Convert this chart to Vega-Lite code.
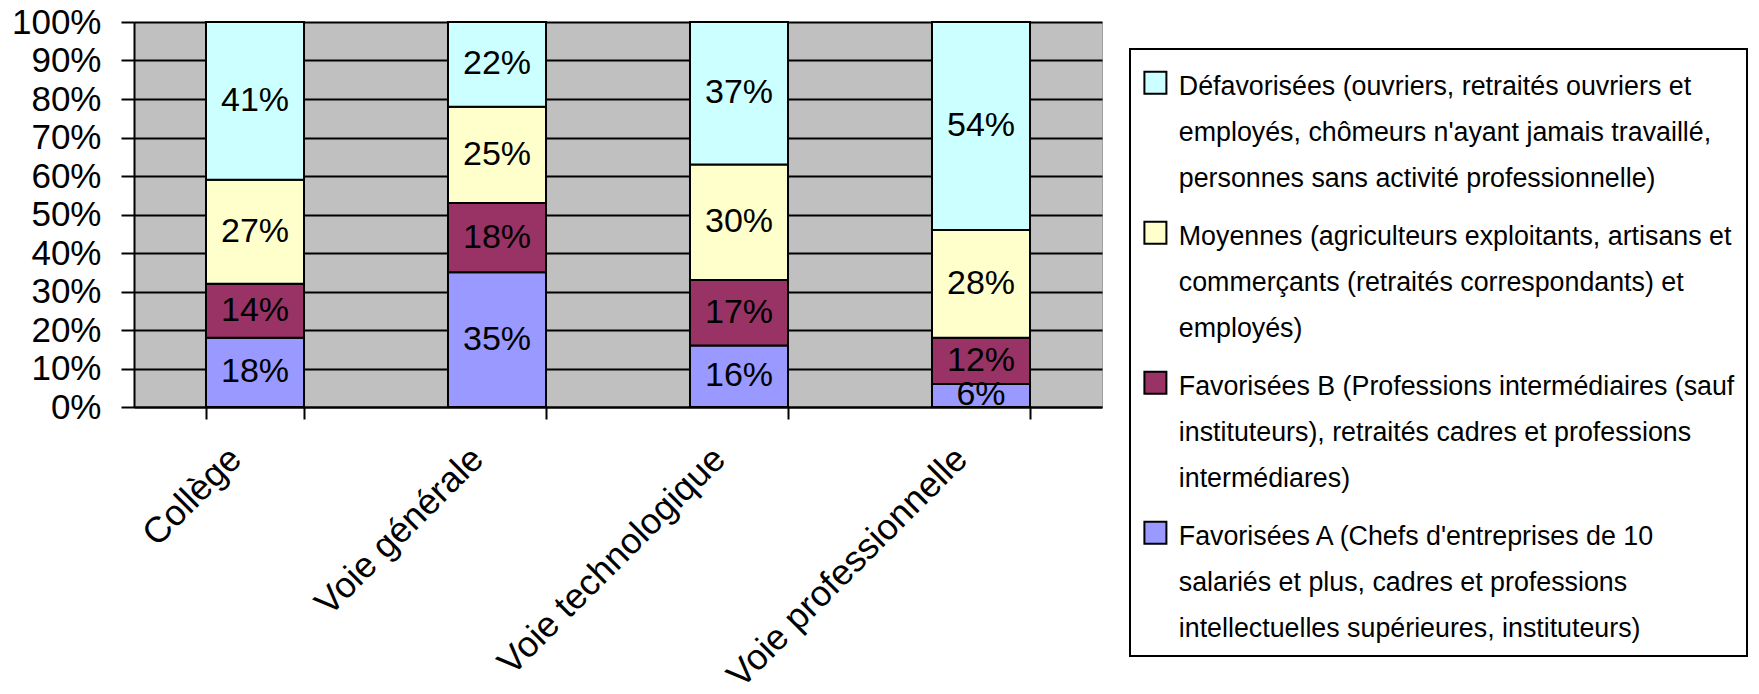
{
  "$schema": "https://vega.github.io/schema/vega-lite/v6.json",
  "width": 968,
  "height": 385,
  "autosize": {"type": "none"},
  "padding": {"left": 134, "top": 22, "right": 657, "bottom": 287},
  "background": "white",
  "config": {
    "font": "Liberation Sans",
    "view": {"fill": "#C0C0C0", "stroke": "#A0A0A0", "strokeWidth": 1},
    "style": {"guide-label": {"lineHeight": 46}},
    "legend": {"strokeWidth": 2}
  },
  "data": {
    "values": [
      {"niveau": "Collège", "groupe": "Favorisées A (Chefs d'entreprises de 10\nsalariés et plus, cadres et professions\nintellectuelles supérieures, instituteurs)", "ordre": 1, "part": 0.18},
      {"niveau": "Collège", "groupe": "Favorisées B (Professions intermédiaires (sauf\ninstituteurs), retraités cadres et professions\nintermédiares)", "ordre": 2, "part": 0.14},
      {"niveau": "Collège", "groupe": "Moyennes (agriculteurs exploitants, artisans et\ncommerçants (retraités correspondants) et\nemployés)", "ordre": 3, "part": 0.27},
      {"niveau": "Collège", "groupe": "Défavorisées (ouvriers, retraités ouvriers et\nemployés, chômeurs n'ayant jamais travaillé,\npersonnes sans activité professionnelle)", "ordre": 4, "part": 0.41},
      {"niveau": "Voie générale", "groupe": "Favorisées A (Chefs d'entreprises de 10\nsalariés et plus, cadres et professions\nintellectuelles supérieures, instituteurs)", "ordre": 1, "part": 0.35},
      {"niveau": "Voie générale", "groupe": "Favorisées B (Professions intermédiaires (sauf\ninstituteurs), retraités cadres et professions\nintermédiares)", "ordre": 2, "part": 0.18},
      {"niveau": "Voie générale", "groupe": "Moyennes (agriculteurs exploitants, artisans et\ncommerçants (retraités correspondants) et\nemployés)", "ordre": 3, "part": 0.25},
      {"niveau": "Voie générale", "groupe": "Défavorisées (ouvriers, retraités ouvriers et\nemployés, chômeurs n'ayant jamais travaillé,\npersonnes sans activité professionnelle)", "ordre": 4, "part": 0.22},
      {"niveau": "Voie technologique", "groupe": "Favorisées A (Chefs d'entreprises de 10\nsalariés et plus, cadres et professions\nintellectuelles supérieures, instituteurs)", "ordre": 1, "part": 0.16},
      {"niveau": "Voie technologique", "groupe": "Favorisées B (Professions intermédiaires (sauf\ninstituteurs), retraités cadres et professions\nintermédiares)", "ordre": 2, "part": 0.17},
      {"niveau": "Voie technologique", "groupe": "Moyennes (agriculteurs exploitants, artisans et\ncommerçants (retraités correspondants) et\nemployés)", "ordre": 3, "part": 0.30},
      {"niveau": "Voie technologique", "groupe": "Défavorisées (ouvriers, retraités ouvriers et\nemployés, chômeurs n'ayant jamais travaillé,\npersonnes sans activité professionnelle)", "ordre": 4, "part": 0.37},
      {"niveau": "Voie professionnelle", "groupe": "Favorisées A (Chefs d'entreprises de 10\nsalariés et plus, cadres et professions\nintellectuelles supérieures, instituteurs)", "ordre": 1, "part": 0.06},
      {"niveau": "Voie professionnelle", "groupe": "Favorisées B (Professions intermédiaires (sauf\ninstituteurs), retraités cadres et professions\nintermédiares)", "ordre": 2, "part": 0.12},
      {"niveau": "Voie professionnelle", "groupe": "Moyennes (agriculteurs exploitants, artisans et\ncommerçants (retraités correspondants) et\nemployés)", "ordre": 3, "part": 0.28},
      {"niveau": "Voie professionnelle", "groupe": "Défavorisées (ouvriers, retraités ouvriers et\nemployés, chômeurs n'ayant jamais travaillé,\npersonnes sans activité professionnelle)", "ordre": 4, "part": 0.54}
    ]
  },
  "encoding": {
    "x": {
      "field": "niveau",
      "type": "nominal",
      "sort": ["Collège", "Voie générale", "Voie technologique", "Voie professionnelle"],
      "scale": {"paddingInner": 0.595, "paddingOuter": 0.2975},
      "axis": {
        "title": null,
        "labelAngle": -45,
        "labelAlign": "right",
        "labelBaseline": "top",
        "labelFontSize": 36,
        "labelColor": "black",
        "labelPadding": 22,
        "labelOffset": -32,
        "labelLimit": 0,
        "labelOverlap": false,
        "tickBand": "extent",
        "tickSize": 12,
        "tickWidth": 2,
        "tickColor": "black",
        "domainColor": "black",
        "domainWidth": 2,
        "grid": false
      }
    }
  },
  "layer": [
    {
      "mark": {"type": "bar", "stroke": "black", "strokeWidth": 2, "opacity": 1},
      "encoding": {
        "y": {
          "field": "part",
          "type": "quantitative",
          "stack": "zero",
          "scale": {"domain": [0, 1], "nice": false},
          "axis": {
            "title": null,
            "values": [0, 0.1, 0.2, 0.3, 0.4, 0.5, 0.6, 0.7, 0.8, 0.9, 1],
            "format": ".0%",
            "labelFontSize": 35,
            "labelColor": "black",
            "labelPadding": 20,
            "labelOverlap": false,
            "labelFlush": false,
            "tickSize": 13,
            "tickWidth": 2,
            "tickColor": "black",
            "domainColor": "black",
            "domainWidth": 2,
            "grid": true,
            "gridColor": "black",
            "gridWidth": 2,
            "gridOpacity": 1
          }
        },
        "color": {
          "field": "groupe",
          "type": "nominal",
          "scale": {
            "domain": [
              "Défavorisées (ouvriers, retraités ouvriers et\nemployés, chômeurs n'ayant jamais travaillé,\npersonnes sans activité professionnelle)",
              "Moyennes (agriculteurs exploitants, artisans et\ncommerçants (retraités correspondants) et\nemployés)",
              "Favorisées B (Professions intermédiaires (sauf\ninstituteurs), retraités cadres et professions\nintermédiares)",
              "Favorisées A (Chefs d'entreprises de 10\nsalariés et plus, cadres et professions\nintellectuelles supérieures, instituteurs)"
            ],
            "range": ["#CCFFFF", "#FFFFCC", "#993366", "#9999FF"]
          },
          "legend": {
            "orient": "none",
            "legendX": 996,
            "legendY": 27,
            "title": null,
            "labelExpr": "split(datum.label, '\\n')",
            "labelFontSize": 26.8,
            "labelColor": "black",
            "labelLimit": 0,
            "labelOffset": 10,
            "labelBaseline": "top",
            "symbolType": "M-1,-0.24L1,-0.24L1,1.76L-1,1.76Z",
            "symbolSize": 484,
            "symbolStrokeColor": "black",
            "symbolStrokeWidth": 2,
            "symbolOpacity": 1,
            "fillColor": "white",
            "strokeColor": "black",
            "padding": 12,
            "rowPadding": 17
          }
        },
        "order": {"field": "ordre", "type": "quantitative", "sort": "ascending"}
      }
    },
    {
      "mark": {"type": "text", "fontSize": 34, "color": "black", "baseline": "middle", "align": "center", "clip": true},
      "encoding": {
        "y": {
          "field": "part",
          "type": "quantitative",
          "stack": "zero",
          "bandPosition": 0.5,
          "axis": {
            "title": null,
            "values": [0, 0.1, 0.2, 0.3, 0.4, 0.5, 0.6, 0.7, 0.8, 0.9, 1],
            "format": ".0%",
            "labelFontSize": 35,
            "labelColor": "black",
            "labelPadding": 20,
            "labelOverlap": false,
            "labelFlush": false,
            "tickSize": 13,
            "tickWidth": 2,
            "tickColor": "black",
            "domainColor": "black",
            "domainWidth": 2,
            "grid": true,
            "gridColor": "black",
            "gridWidth": 2,
            "gridOpacity": 1
          }
        },
        "detail": {"field": "groupe", "type": "nominal"},
        "order": {"field": "ordre", "type": "quantitative", "sort": "ascending"},
        "text": {"field": "part", "type": "quantitative", "format": ".0%"}
      }
    }
  ]
}
